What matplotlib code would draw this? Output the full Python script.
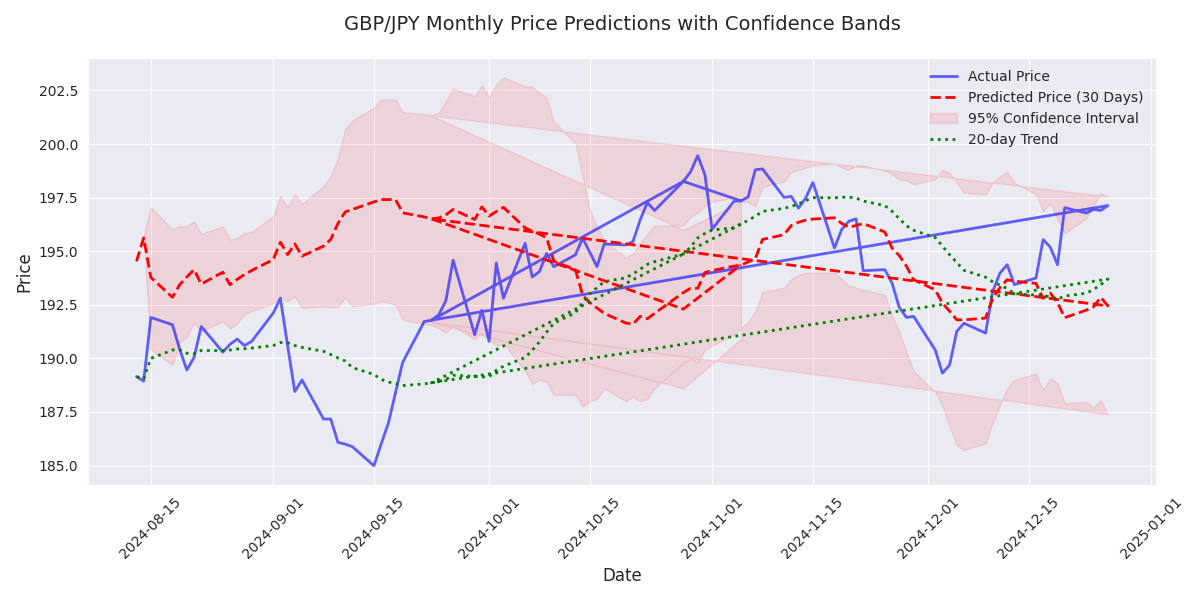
import matplotlib
matplotlib.use("Agg")
import matplotlib.pyplot as plt
import seaborn as sns
import numpy as np
import pandas as pd

# ---------------- data ----------------
aug_days = [13, 14, 15, 18, 19, 20, 21, 22, 25, 26, 27, 28, 29]
sep_days = [1, 2, 3, 4, 5, 8, 9, 10, 11, 12, 15, 16, 17, 18, 19, 22, 23, 24, 25, 26, 29, 30]
oct_days = [1, 2, 3, 6, 7, 8, 9, 10, 13, 14, 15, 16, 17, 20, 21, 22, 23, 24, 28, 29, 30, 31]
nov_days = [1, 4, 5, 6, 7, 8, 11, 12, 13, 14, 15, 18, 19, 20, 21, 22, 25, 26, 27, 28, 29]
dec_days = [2, 3, 4, 5, 6, 9, 10, 11, 12, 13, 16, 17, 18, 19, 20, 23, 24, 25, 26]

actual = [189.15, 188.94, 191.91, 191.57, 190.43, 189.46, 190.04, 191.49, 190.29, 190.66,
          190.90, 190.60, 190.79, 192.11, 192.81, 190.60, 188.45, 188.99, 187.17, 187.17,
          186.08, 186.00, 185.88, 184.99, 186.00, 186.97, 188.40, 189.82, 191.72, 191.78,
          192.03, 192.69, 194.58, 191.10, 192.24, 190.79, 194.45, 192.81, 195.37, 193.80,
          194.05, 194.90, 194.28, 194.83, 195.61, 194.95, 194.28, 195.34, 195.29, 195.45,
          196.46, 197.27, 196.90, 198.26, 198.70, 199.46, 198.57, 196.03, 197.32, 197.35,
          197.53, 198.80, 198.84, 197.51, 197.56, 197.01, 197.48, 198.21, 195.15, 196.01,
          196.40, 196.51, 194.09, 194.14, 193.52, 192.38, 191.91, 191.96, 190.40, 189.31,
          189.69, 191.26, 191.64, 191.18, 193.13, 193.98, 194.37, 193.44, 193.75, 195.54,
          195.19, 194.37, 197.03, 196.78, 196.95, 196.90, 197.13]

predicted = [194.53, 195.62, 193.78, 192.85, 193.44, 193.80, 194.14, 193.47, 194.02, 193.44,
             193.69, 193.91, 194.10, 194.61, 195.42, 194.84, 195.34, 194.77, 195.24, 195.55,
             196.30, 196.83, 196.95, 197.30, 197.41, 197.41, 197.41, 196.79, 196.60, 196.51,
             196.55, 196.70, 196.95, 196.48, 197.07, 196.64, 196.85, 197.05, 196.09, 195.94,
             195.80, 195.62, 194.53, 194.14, 192.95, 192.60, 192.35, 192.10, 191.65, 191.60,
             191.96, 191.85, 192.10, 193.07, 193.27, 193.27, 194.00, 194.10, 194.30, 194.35,
             194.50, 194.65, 195.55, 195.77, 196.20, 196.35, 196.45, 196.50, 196.56, 196.30,
             196.12, 196.20, 196.29, 195.90, 195.15, 194.80, 194.30, 193.67, 193.20, 192.58,
             192.20, 191.80, 191.80, 191.88, 192.81, 193.30, 193.67, 193.60, 193.50, 192.80,
             193.05, 192.60, 191.90, 192.25, 192.40, 192.85, 192.45]

upper = [np.nan, 195.70, 197.06, 196.01, 196.17, 196.17, 196.40, 195.81, 196.17, 195.54,
         195.62, 195.86, 195.90, 196.64, 197.57, 197.06, 197.68, 197.21, 198.04, 198.51,
         199.37, 200.68, 201.10, 201.70, 202.08, 202.08, 202.08, 201.49, 201.40, 201.33,
         201.46, 202.00, 202.60, 202.23, 202.75, 202.19, 202.78, 203.12, 202.70, 202.67,
         202.40, 202.16, 201.07, 200.02, 198.49, 196.95, 196.15, 195.50, 194.70, 194.90,
         195.40, 195.80, 196.20, 196.20, 196.60, 196.80, 197.10, 197.30, 197.50, 197.30,
         197.30, 197.10, 198.00, 198.25, 198.70, 198.80, 198.90, 199.00, 199.10, 198.90,
         198.80, 199.00, 199.00, 198.76, 198.60, 198.34, 198.30, 198.12, 198.35, 198.79,
         198.66, 198.20, 197.73, 197.65, 198.20, 198.50, 198.71, 198.20, 197.65, 196.87,
         197.25, 196.50, 195.84, 196.54, 197.10, 197.71, 197.56]

lower = [np.nan, 195.70, 190.40, 189.69, 190.71, 191.02, 191.64, 191.26, 191.72, 191.38,
         191.64, 192.07, 192.20, 192.58, 192.85, 192.66, 192.90, 192.35, 192.43, 192.40,
         192.38, 192.85, 192.43, 192.55, 192.66, 192.60, 192.50, 191.80, 191.60, 191.55,
         191.40, 191.20, 191.50, 190.90, 191.20, 190.90, 190.60, 190.70, 189.40, 188.80,
         189.00, 188.90, 188.30, 188.30, 187.75, 188.00, 188.10, 188.60, 188.00, 188.20,
         188.00, 188.10, 188.60, 189.80, 190.00, 189.80, 190.40, 190.60, 191.10, 191.40,
         191.70, 192.20, 193.10, 193.30, 193.70, 193.90, 194.00, 194.00, 194.00, 193.70,
         193.40, 193.30, 193.20, 192.97, 192.00, 191.26, 190.30, 189.40, 188.45, 187.80,
         186.80, 185.95, 185.72, 186.03, 187.00, 187.82, 188.60, 188.99, 189.30, 188.52,
         189.07, 188.84, 187.90, 187.98, 187.70, 188.06, 187.39]

trend = [189.15, 189.05, 190.00, 190.39, 190.40, 190.24, 190.21, 190.37, 190.36, 190.39,
         190.44, 190.45, 190.48, 190.60, 190.74, 190.73, 190.60, 190.51, 190.33, 190.18,
         190.02, 189.88, 189.57, 189.25, 189.02, 188.90, 188.82, 188.73, 188.81, 188.86,
         188.92, 189.02, 189.21, 189.16, 189.13, 189.14, 189.44, 189.63, 190.04, 190.38,
         190.77, 191.22, 191.64, 192.13, 192.61, 193.01, 193.30, 193.58, 193.76, 193.94,
         194.16, 194.39, 194.51, 194.87, 195.19, 195.62, 195.83, 195.99, 196.09, 196.27,
         196.44, 196.63, 196.86, 197.00, 197.09, 197.20, 197.36, 197.50, 197.49, 197.52,
         197.52, 197.48, 197.34, 197.13, 196.87, 196.52, 196.19, 195.98, 195.64, 195.24,
         194.84, 194.47, 194.11, 193.79, 193.57, 193.42, 193.26, 193.02, 192.95, 192.93,
         192.87, 192.76, 192.91, 193.04, 193.21, 193.44, 193.70]

# rows appended after the last date (data order goes back in time)
extra_dates = ["2024-09-23", "2024-10-28", "2024-11-05"]
extra_actual = [191.78, 198.26, 197.35]
extra_predicted = [196.51, 192.30, 194.36]
extra_upper = [201.33, 196.00, 197.30]
extra_lower = [191.70, 188.60, 190.90]
extra_trend = [188.86, 194.87, 196.27]

# ---------------- assemble ----------------
dates = []
for m, days in zip([8, 9, 10, 11, 12], [aug_days, sep_days, oct_days, nov_days, dec_days]):
    dates += [pd.Timestamp(2024, m, d) for d in days]
dates += [pd.Timestamp(s) for s in extra_dates]

x = pd.to_datetime(dates)
y_act = np.array(actual + extra_actual)
y_pred = np.array(predicted + extra_predicted)
y_up = np.array(upper + extra_upper)
y_lo = np.array(lower + extra_lower)
y_tr = np.array(trend + extra_trend)

# ---------------- plot ----------------
sns.set_style("darkgrid")
plt.rcParams["font.family"] = ["DejaVu Sans"]
plt.rcParams["legend.frameon"] = False
fig, ax = plt.subplots(figsize=(12, 6), dpi=100)

ax.plot(x, y_act, color="blue", alpha=0.6, linewidth=2, label="Actual Price")
ax.plot(x, y_pred, "r--", linewidth=2, label="Predicted Price (30 Days)")
ax.fill_between(x, y_lo, y_up, color="red", alpha=0.1, label="95% Confidence Interval")
ax.plot(x, y_tr, color="green", linestyle=":", linewidth=2, label="20-day Trend")

ax.set_title("GBP/JPY Monthly Price Predictions with Confidence Bands", fontsize=14, pad=20)
ax.set_xlabel("Date", fontsize=12)
ax.set_ylabel("Price", fontsize=12)
ax.legend(loc="upper right", fontsize=10)
plt.xticks(rotation=45)
plt.tight_layout()
fig.savefig("out.png", dpi=100)
